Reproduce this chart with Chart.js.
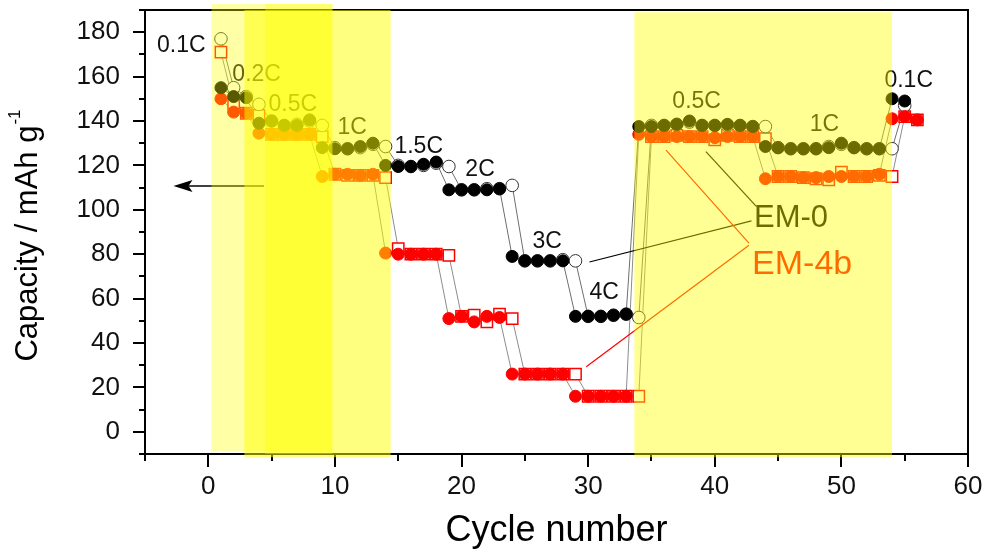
<!DOCTYPE html>
<html>
<head>
<meta charset="utf-8">
<title>Rate capability EM-0 / EM-4b</title>
<script src="https://cdn.jsdelivr.net/npm/chart.js@4.4.1/dist/chart.umd.min.js"></script>
<style>
  html, body { margin: 0; padding: 0; background: #fff; }
  #wrap { width: 986px; height: 556px; }
</style>
</head>
<body>
<div id="wrap"><canvas id="rate" width="986" height="556"></canvas></div>
<script>
// ---- data ----
const cyclesEM0 = [1, 2, 3, 4, 5, 6, 7, 8, 9, 10, 11, 12, 13, 14, 15, 16, 17, 18, 19, 20,
  21, 22, 23, 24, 25, 26, 27, 28, 29, 30, 31, 32, 33, 34, 35, 36, 37, 38, 39, 40,
  41, 42, 43, 44, 45, 46, 47, 48, 49, 50, 51, 52, 53, 54, 55];
const cyclesEM4b = [1, 2, 3, 4, 5, 6, 7, 8, 9, 10, 11, 12, 13, 14, 15, 16, 17, 18, 19, 20,
  21, 22, 23, 24, 25, 26, 27, 28, 29, 30, 31, 32, 33, 34, 35, 36, 37, 38, 39, 40,
  41, 42, 43, 44, 45, 46, 47, 48, 49, 50, 51, 52, 53, 54, 55, 56];

// filled symbols
const em0Discharge = [155, 151, 150.5, 139, 140, 138, 138, 140.5, 128, 127.5,
  127.5, 128.5, 130, 120, 119.5, 119.5, 120.5, 121.5, 109, 109,
  109, 109, 109.5, 79, 77, 77, 77, 77, 52, 52,
  52, 52.5, 53, 137.5, 137.5, 138, 138.5, 140, 138, 138,
  138.5, 138, 137.5, 128.5, 128, 127.5, 127.5, 127.5, 128, 130,
  128, 127.5, 127.5, 150, 149];
// open symbols
const em0Charge = [177, 155, 151, 147.5, 140, 138, 138.5, 140, 138, 128,
  127.5, 128, 129.5, 128.5, 120, 119.5, 120, 121, 119.5, 109,
  109, 109.5, 109.5, 111, 77, 77, 77, 77.5, 77, 52,
  52, 52.5, 53, 51.5, 138, 138, 138.5, 139.5, 138, 138,
  138, 138, 137.5, 137.5, 128, 127.5, 127.5, 127.5, 128.5, 129.5,
  128, 127.5, 127.5, 127.5, 147];

const em4bDischarge = [150, 144, 143.5, 134.5, 134, 134, 134, 134, 115, 116,
  116, 115.5, 116, 80.5, 80, 80, 80, 80, 51, 52,
  49.5, 52, 51.5, 26, 26, 26, 26, 26, 16, 16,
  16, 16, 16, 134, 133, 133, 133, 133, 133, 132.5,
  133, 133, 133, 114, 115, 115, 114.5, 114.5, 115, 115,
  115, 115, 116, 141, 142, 140.5];
const em4bCharge = [171, 148, 143.5, 142.5, 134, 134, 134, 134, 133, 116,
  115.5, 115.5, 115.5, 114.5, 82.5, 80, 80, 80, 79.5, 52,
  52.5, 49.5, 53, 51, 26, 26, 26, 26, 26, 16,
  16, 16, 16, 16, 133, 133, 133.5, 133, 133, 131.5,
  133.5, 133, 133, 132, 115, 115, 114.5, 114, 113.5, 117,
  115, 115, 115.5, 115, 142, 140.5];

const xTickLabels = [0, 10, 20, 30, 40, 50, 60];
const yTickLabels = [0, 20, 40, 60, 80, 100, 120, 140, 160, 180];
const rateNames = ['0.1C', '0.2C', '0.5C', '1C', '1.5C', '2C', '3C', '4C', '0.5C', '1C', '0.1C'];
const sampleNames = ['EM-0', 'EM-4b'];

// ---- annotation anchors (cycle, capacity) ----
const rateAnchors = [[-4.05, 174], [1.9, 161], [4.75, 147.5], [10.2, 137], [14.7, 128.3],
  [20.3, 118], [25.6, 85.5], [30.1, 62.5], [36.65, 148.6], [47.5, 138.2], [53.4, 158]];
const nameAnchors = [[43.1, 96.3], [42.95, 75.1]];
const nameSizes = [31, 34];
const leaders = [
  { color: '#000', pts: [[39.3, 126.2], [43.3, 101.4]] },
  { color: '#000', pts: [[30.1, 76.5], [42.9, 95]] },
  { color: '#ff0000', pts: [[36.15, 126.9], [42.7, 85]] },
  { color: '#ff0000', pts: [[29.85, 29.3], [42.7, 84]] }
];
// highlighted regions: cycle from/to, capacity from/to, opacity
const bands = [
  [0.25, 9.8, -8.6, 192.7, 0.35],
  [2.85, 14.4, -11.4, 190, 0.5],
  [4.5, 9.8, -10, 192.7, 0.35],
  [33.65, 54.0, -11.4, 189, 0.42]
];

const FONT = "'Liberation Sans', Arial, Helvetica, sans-serif";
const pts = (xs, ys) => xs.map((c, i) => ({ x: c, y: ys[i] }));

function lineSet(xs, ys, color, order) {
  return { data: pts(xs, ys), showLine: true, borderColor: color, borderWidth: 1,
    pointRadius: 0, fill: false, tension: 0, order: order };
}
function markerSet(xs, ys, style, order) {
  return Object.assign({ data: pts(xs, ys), showLine: false, order: order }, style);
}
// fixed axis box sizes, no extra room for edge labels
function fixBox(size) {
  return s => {
    if (s.isHorizontal()) s.height = size; else s.width = size;
    s.paddingTop = s.paddingBottom = s.paddingLeft = s.paddingRight = 0;
  };
}

const decor = {
  id: 'decor',
  afterDraw(chart) {
    const { ctx, chartArea: a, scales: { x, y } } = chart;
    const px = v => x.getPixelForValue(v);
    const py = v => y.getPixelForValue(v);
    ctx.save();

    // frame + ticks
    ctx.strokeStyle = '#000';
    ctx.lineWidth = 2;
    ctx.strokeRect(a.left, a.top, a.right - a.left, a.bottom - a.top);
    ctx.beginPath();
    x.ticks.forEach(t => {
      const len = xTickLabels.includes(t.value) ? 13 : 7;
      const p = Math.round(px(t.value));
      ctx.moveTo(p, a.bottom); ctx.lineTo(p, a.bottom + len);
    });
    y.ticks.forEach(t => {
      const len = yTickLabels.includes(t.value) ? 12 : 6;
      const p = Math.round(py(t.value));
      ctx.moveTo(a.left, p); ctx.lineTo(a.left - len, p);
    });
    ctx.stroke();

    // rate labels
    ctx.fillStyle = '#111';
    ctx.font = '23px ' + FONT;
    ctx.textAlign = 'left';
    ctx.textBaseline = 'middle';
    rateNames.forEach((s, i) => ctx.fillText(s, px(rateAnchors[i][0]), py(rateAnchors[i][1])));

    // leader lines and sample names
    ctx.lineWidth = 1.2;
    leaders.forEach(l => {
      ctx.strokeStyle = l.color;
      ctx.beginPath();
      ctx.moveTo(px(l.pts[0][0]), py(l.pts[0][1]));
      ctx.lineTo(px(l.pts[1][0]), py(l.pts[1][1]));
      ctx.stroke();
    });
    ['#000', '#ff0000'].forEach((c, i) => {
      ctx.font = nameSizes[i] + 'px ' + FONT;
      ctx.fillStyle = c;
      ctx.fillText(sampleNames[i], px(nameAnchors[i][0]), py(nameAnchors[i][1]));
    });

    // arrow pointing to the left axis
    const ay = py(110.7), ax0 = px(4.4), ax1 = px(-2.75);
    ctx.strokeStyle = '#000';
    ctx.fillStyle = '#000';
    ctx.lineWidth = 1.5;
    ctx.beginPath(); ctx.moveTo(ax0, ay); ctx.lineTo(ax1 + 10, ay); ctx.stroke();
    ctx.beginPath();
    ctx.moveTo(ax1, ay); ctx.lineTo(ax1 + 19, ay - 6); ctx.lineTo(ax1 + 15, ay); ctx.lineTo(ax1 + 19, ay + 6);
    ctx.closePath(); ctx.fill();

    // axis titles
    ctx.fillStyle = '#000';
    ctx.textBaseline = 'alphabetic';
    ctx.font = '36px ' + FONT;
    ctx.textAlign = 'center';
    ctx.fillText('Cycle number', (a.left + a.right) / 2, 541);

    ctx.save();
    ctx.translate(37, 236);
    ctx.rotate(-Math.PI / 2);
    ctx.textAlign = 'left';
    ctx.font = '31px ' + FONT;
    const main = 'Capacity / mAh g';
    const w = ctx.measureText(main).width;
    ctx.font = '17px ' + FONT;
    const ws = ctx.measureText('-1').width;
    const start = -(w + ws) / 2;
    ctx.font = '31px ' + FONT;
    ctx.fillText(main, start, 0);
    ctx.font = '17px ' + FONT;
    ctx.fillText('-1', start + w + 1, -17);
    ctx.restore();

    // translucent yellow highlights on top of everything
    bands.forEach(b => {
      ctx.fillStyle = 'rgba(255,255,0,' + b[4] + ')';
      const l = px(b[0]), r = px(b[1]), t = py(b[3]), btm = py(b[2]);
      ctx.fillRect(l, t, r - l, btm - t);
    });
    ctx.restore();
  }
};

new Chart(document.getElementById('rate'), {
  type: 'line',
  data: {
    datasets: [
      markerSet(cyclesEM0, em0Discharge, { pointStyle: 'circle', pointRadius: 6, pointBackgroundColor: '#000',
        pointBorderColor: '#000', pointBorderWidth: 1 }, 1),
      markerSet(cyclesEM4b, em4bDischarge, { pointStyle: 'circle', pointRadius: 6, pointBackgroundColor: '#ff0000',
        pointBorderColor: '#ff0000', pointBorderWidth: 1 }, 2),
      markerSet(cyclesEM0, em0Charge, { pointStyle: 'circle', pointRadius: 6.3, pointBackgroundColor: '#fff',
        pointBorderColor: '#333', pointBorderWidth: 1 }, 3),
      markerSet(cyclesEM4b, em4bCharge, { pointStyle: 'rect', pointRadius: 8, pointBackgroundColor: '#fff',
        pointBorderColor: '#ff0000', pointBorderWidth: 1.5 }, 4),
      lineSet(cyclesEM0, em0Discharge, '#6e6e6e', 5),
      lineSet(cyclesEM4b, em4bDischarge, '#8c8c8c', 6),
      lineSet(cyclesEM0, em0Charge, '#6e6e6e', 7),
      lineSet(cyclesEM4b, em4bCharge, '#8c8c8c', 8)
    ]
  },
  options: {
    responsive: false,
    animation: false,
    devicePixelRatio: 1,
    events: [],
    layout: { padding: { top: 10, right: 18, left: 0, bottom: 0 } },
    plugins: { legend: { display: false }, tooltip: { enabled: false } },
    scales: {
      x: {
        type: 'linear', min: -5, max: 60,
        grid: { display: false, drawTicks: false },
        border: { display: false },
        ticks: {
          stepSize: 5, autoSkip: false, maxRotation: 0, padding: 17, color: '#111',
          font: { family: FONT, size: 26 },
          callback: v => xTickLabels.includes(v) ? String(v) : ''
        },
        afterFit: fixBox(102)
      },
      y: {
        type: 'linear', min: -10, max: 190,
        grid: { display: false, drawTicks: false },
        border: { display: false },
        ticks: {
          stepSize: 10, autoSkip: false, padding: 25, color: '#111',
          font: { family: FONT, size: 26 },
          callback: v => yTickLabels.includes(v) ? String(v) : ''
        },
        afterFit: fixBox(145)
      }
    }
  },
  plugins: [decor]
});
</script>
</body>
</html>
